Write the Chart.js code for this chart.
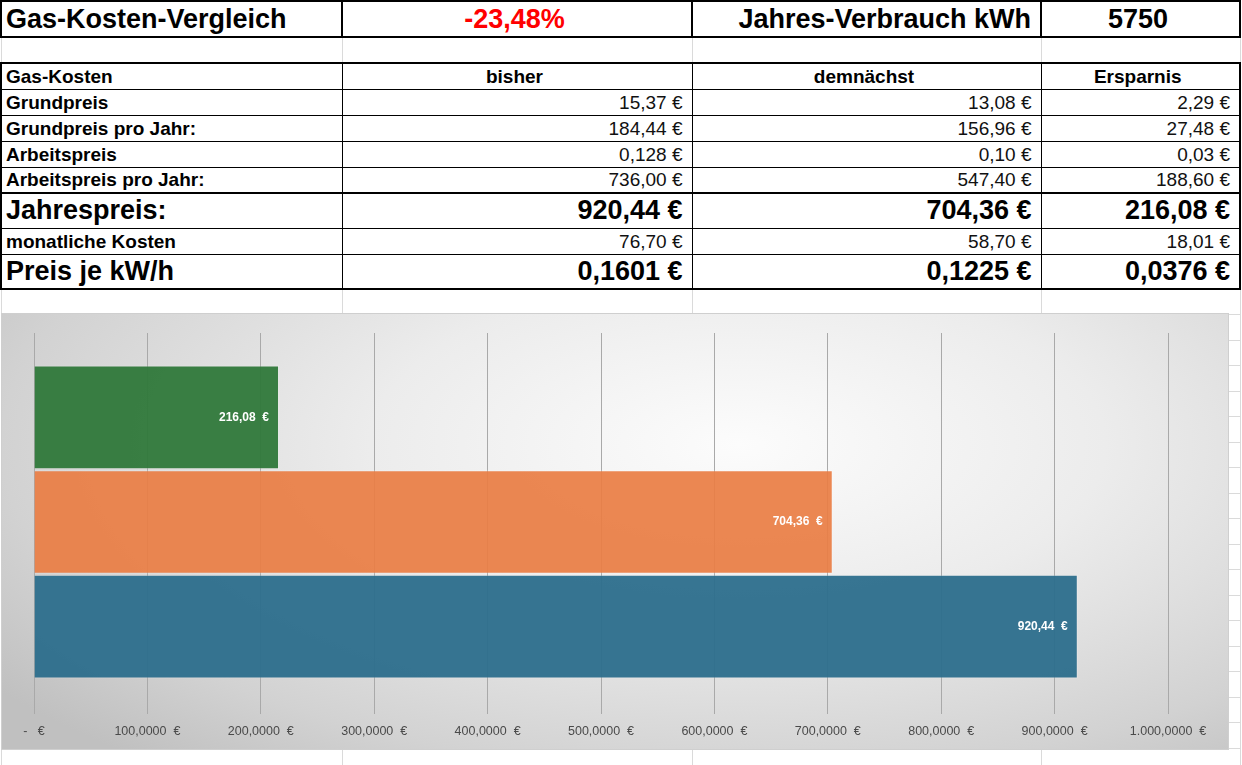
<!DOCTYPE html>
<html lang="de">
<head>
<meta charset="utf-8">
<title>Gas-Kosten-Vergleich</title>
<script src="https://cdn.jsdelivr.net/npm/chart.js@4.4.1/dist/chart.umd.min.js"></script>
<style>
  html, body { margin: 0; padding: 0; background: #fff; }
  body { width: 1242px; height: 765px; overflow: hidden; position: relative;
         font-family: "Liberation Sans", Arial, sans-serif; color: #000; }
  table { border-collapse: collapse; table-layout: fixed; position: absolute; left: 0; top: 0; }
  td { padding: 0 9px 0 4px; white-space: nowrap; overflow: hidden; font-size: 19px;
       border: 1px solid #000; box-sizing: border-box; line-height: 1; }
  tr.titel td { height: 36px; font-size: 27px; font-weight: bold; border: 2px solid #000; }
  tr.zeile td { height: 26px; }
  tr.gross td { height: 35px; font-size: 27px; font-weight: bold; }
  tr.oben td { border-top: 2px solid #000; }
  tr.unten td { border-bottom: 2px solid #000; }
  tr.kopf td { border-top: 2px solid #000; font-weight: bold; }
  td.erste { border-left: 2px solid #000; font-weight: bold; text-align: left; }
  td.letzte { border-right: 2px solid #000; }
  td.wert { text-align: right; color: #111; }
  tr.gross td.wert { font-weight: bold; color: #000; }
  tr.leerzeile td { height: 26px; border: 1px solid #dadada; }
  tr.leerzeile25 td { height: 25.5px; border: 1px solid #dadada; }
  #diagramm { position: absolute; left: 1px; top: 313px; width: 1228px; height: 437px;
              box-sizing: border-box; border: 1px solid #cfcfcf;
              background: radial-gradient(ellipse 75% 95% at 60% 30%, #fcfcfc 0%, #ececec 40%, #d2d2d2 80%, #c0c0c0 100%); }
  #diagramm canvas { display: block; }
</style>
</head>
<body>
<table id="tabelle">
  <colgroup><col style="width:341px"><col style="width:350px"><col style="width:349px"><col style="width:199px"></colgroup>
  <tbody id="tbody"></tbody>
</table>
<div id="diagramm"><canvas id="chart"></canvas></div>
<script>
// Kopfzeile
const titel = 'Gas-Kosten-Vergleich'
const prozent = '-23,48%'
const verbrauchText = 'Jahres-Verbrauch kWh'
const verbrauch = '5750'

// Tabelle
const spalten = ['Gas-Kosten', 'bisher', 'demnächst', 'Ersparnis']
const zeilen = ['Grundpreis', 'Grundpreis pro Jahr:', 'Arbeitspreis', 'Arbeitspreis pro Jahr:', 'Jahrespreis:', 'monatliche Kosten', 'Preis je kW/h']
const bisher = ['15,37 €', '184,44 €', '0,128 €', '736,00 €', '920,44 €', '76,70 €', '0,1601 €']
const demnaechst = ['13,08 €', '156,96 €', '0,10 €', '547,40 €', '704,36 €', '58,70 €', '0,1225 €']
const ersparnis = ['2,29 €', '27,48 €', '0,03 €', '188,60 €', '216,08 €', '18,01 €', '0,0376 €']

// Diagramm
const kategorien = ['Ersparnis', 'demnächst', 'bisher']
const werte = [216.08, 704.36, 920.44]
const wertLabels = ['216,08  €', '704,36  €', '920,44  €']
const farben = ['rgba(47,120,58,0.95)', 'rgba(233,126,69,0.93)', 'rgba(44,110,140,0.95)']
const achsenLabels = ['-   €', '100,0000  €', '200,0000  €', '300,0000  €', '400,0000  €', '500,0000  €',
                      '600,0000  €', '700,0000  €', '800,0000  €', '900,0000  €', '1.000,0000  €']

function baueTabelle() {
    const tbody = document.getElementById('tbody')
    let html = `<tr class="titel">
        <td style="text-align:left">${titel}</td>
        <td style="text-align:center;color:#f00">${prozent}</td>
        <td style="text-align:right">${verbrauchText}</td>
        <td style="text-align:center">${verbrauch}</td></tr>`
    html += '<tr class="leerzeile"><td></td><td></td><td></td><td></td></tr>'
    html += `<tr class="zeile kopf"><td class="erste">${spalten[0]}</td>
        <td style="text-align:center">${spalten[1]}</td>
        <td style="text-align:center">${spalten[2]}</td>
        <td class="letzte" style="text-align:center">${spalten[3]}</td></tr>`
    for (let i = 0; i < zeilen.length; i++) {
        let klasse = 'zeile'
        if (i === 4) klasse = 'gross oben'
        if (i === 6) klasse = 'gross unten'
        html += `<tr class="${klasse}"><td class="erste">${zeilen[i]}</td>
            <td class="wert">${bisher[i]}</td>
            <td class="wert">${demnaechst[i]}</td>
            <td class="wert letzte">${ersparnis[i]}</td></tr>`
    }
    for (let i = 0; i < 19; i++) {
        html += '<tr class="leerzeile25"><td></td><td></td><td></td><td></td></tr>'
    }
    tbody.innerHTML = html
}
baueTabelle()

// Gitterlinien oberhalb der Balken verlängern
const gitterOben = {
    id: 'gitterOben',
    beforeDatasetsDraw(chart) {
        const ctx = chart.ctx
        const x = chart.scales.x
        const top = chart.chartArea.top
        const align = (Chart.helpers && Chart.helpers._alignPixel)
            ? (p) => Chart.helpers._alignPixel(chart, p, 1)
            : (p) => Math.round(p) + 0.5
        ctx.save()
        ctx.strokeStyle = '#a9a9a9'
        ctx.lineWidth = 1
        for (let t of x.ticks) {
            const px = align(x.getPixelForValue(t.value))
            ctx.beginPath()
            ctx.moveTo(px, top - 32)
            ctx.lineTo(px, top)
            ctx.stroke()
        }
        ctx.restore()
    }
}

// Werte in den Balken
const balkenWerte = {
    id: 'balkenWerte',
    afterDatasetsDraw(chart) {
        const ctx = chart.ctx
        const meta = chart.getDatasetMeta(0)
        ctx.save()
        ctx.fillStyle = '#ffffff'
        ctx.font = 'bold 12px "Liberation Sans", Arial, sans-serif'
        ctx.textAlign = 'right'
        ctx.textBaseline = 'middle'
        meta.data.forEach((bar, i) => {
            ctx.fillText(wertLabels[i], bar.x - 10, bar.y)
        })
        ctx.restore()
    }
}

function criarGrafico() {
    const ctx = document.getElementById('chart').getContext('2d')
    new Chart(ctx, {
        type: 'bar',
        data: {
            labels: kategorien,
            datasets: [{
                data: werte,
                backgroundColor: farben,
                borderColor: 'rgba(255,255,255,0.25)',
                borderWidth: 1,
                barPercentage: 0.99,
                categoryPercentage: 1
            }]
        },
        options: {
            indexAxis: 'y',
            animation: false,
            responsive: true,
            maintainAspectRatio: false,
            layout: { padding: { left: 32, right: 60, top: 51, bottom: 0 } },
            plugins: {
                legend: { display: false },
                tooltip: { enabled: false }
            },
            scales: {
                x: {
                    min: 0,
                    max: 1000,
                    border: { display: false },
                    grid: { color: '#a9a9a9', lineWidth: 1, drawTicks: true, tickLength: 35, tickColor: '#a9a9a9' },
                    ticks: {
                        stepSize: 100,
                        padding: 10,
                        color: '#4a4a4a',
                        font: { family: '"Liberation Sans", Arial, sans-serif', size: 12.5 },
                        maxRotation: 0,
                        autoSkip: false,
                        callback: (v, i) => achsenLabels[i]
                    }
                },
                y: { display: false }
            }
        },
        plugins: [gitterOben, balkenWerte]
    })
}
criarGrafico()
</script>
</body>
</html>
